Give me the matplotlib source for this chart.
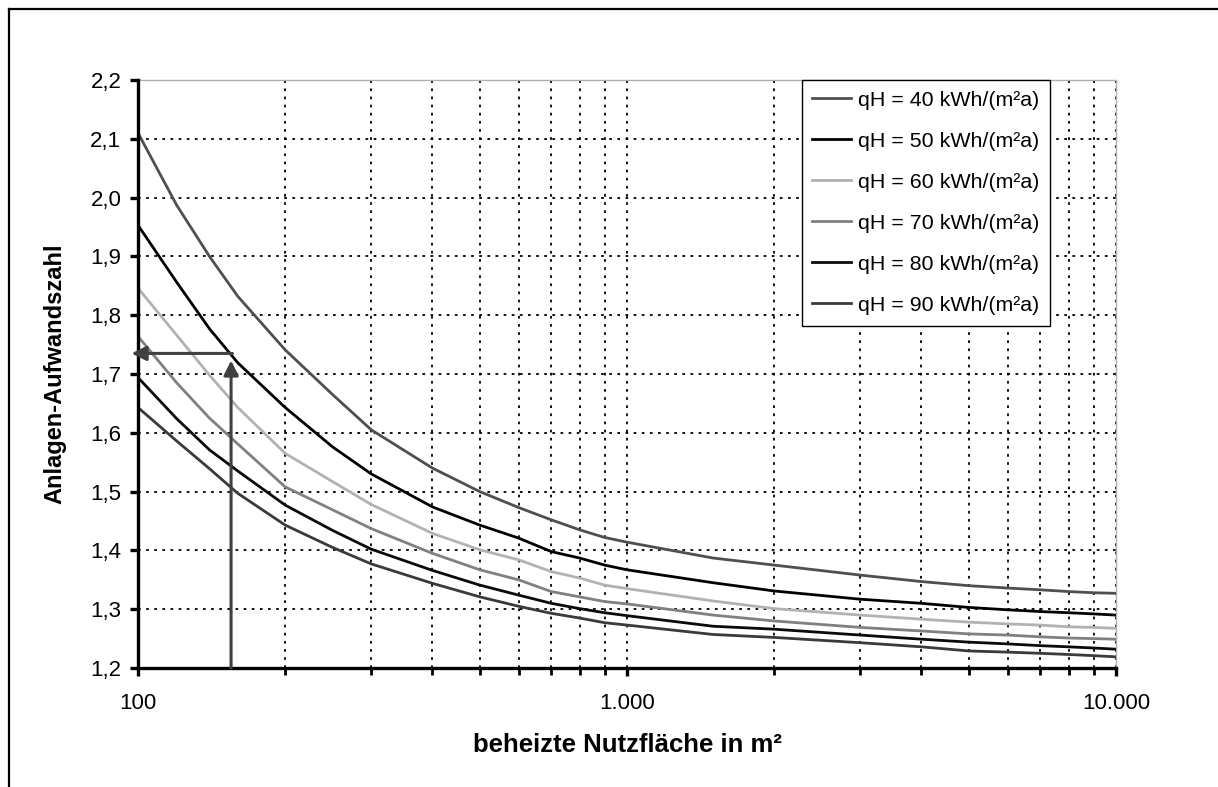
import matplotlib
matplotlib.use("Agg")
import matplotlib.pyplot as plt
from matplotlib.ticker import FixedLocator, FuncFormatter, NullFormatter
from matplotlib.lines import Line2D

plt.rcParams['font.family'] = ['Liberation Sans', 'DejaVu Sans']

# ---- data ----
area = [100, 120, 140, 160, 200, 250, 300, 400, 500, 600, 700, 800, 900,
        1000, 1500, 2000, 3000, 4000, 5000, 6000, 7000, 8000, 9000, 10000]

q40 = [2.110, 1.987, 1.900, 1.832, 1.741, 1.665, 1.605, 1.540, 1.500, 1.473, 1.452, 1.435, 1.422,
       1.414, 1.387, 1.375, 1.358, 1.347, 1.340, 1.336, 1.333, 1.330, 1.328, 1.327]
q50 = [1.953, 1.856, 1.777, 1.719, 1.643, 1.576, 1.530, 1.474, 1.443, 1.421, 1.398, 1.387, 1.375,
       1.367, 1.345, 1.331, 1.317, 1.310, 1.303, 1.299, 1.296, 1.294, 1.292, 1.290]
q60 = [1.846, 1.766, 1.698, 1.643, 1.565, 1.517, 1.478, 1.429, 1.401, 1.384, 1.364, 1.353, 1.341,
       1.335, 1.314, 1.301, 1.290, 1.283, 1.278, 1.275, 1.273, 1.270, 1.269, 1.2675]
q70 = [1.764, 1.685, 1.625, 1.581, 1.508, 1.469, 1.437, 1.395, 1.367, 1.350, 1.330, 1.321, 1.313,
       1.309, 1.290, 1.280, 1.269, 1.263, 1.258, 1.256, 1.253, 1.251, 1.250, 1.249]
q80 = [1.694, 1.624, 1.571, 1.535, 1.477, 1.434, 1.402, 1.366, 1.341, 1.324, 1.310, 1.301, 1.294,
       1.289, 1.271, 1.266, 1.256, 1.249, 1.244, 1.241, 1.238, 1.236, 1.234, 1.232]
q90 = [1.643, 1.586, 1.539, 1.497, 1.443, 1.405, 1.377, 1.344, 1.321, 1.305, 1.293, 1.285, 1.277,
       1.273, 1.257, 1.252, 1.243, 1.236, 1.229, 1.227, 1.225, 1.223, 1.221, 1.219]

series = [q40, q50, q60, q70, q80, q90]
labels = ["qH = 40 kWh/(m²a)", "qH = 50 kWh/(m²a)", "qH = 60 kWh/(m²a)",
          "qH = 70 kWh/(m²a)", "qH = 80 kWh/(m²a)", "qH = 90 kWh/(m²a)"]
colors = ["#4f4f4f", "#000000", "#b2b2b2", "#808080", "#0a0a0a", "#3a3a3a"]

# example reading (arrow)
ex_area = 155
ex_value = 1.735

y_ticks = [1.2, 1.3, 1.4, 1.5, 1.6, 1.7, 1.8, 1.9, 2.0, 2.1, 2.2]
x_major = [100, 1000, 10000]
x_major_labels = ["100", "1.000", "10.000"]
x_minor = [200, 300, 400, 500, 600, 700, 800, 900,
           2000, 3000, 4000, 5000, 6000, 7000, 8000, 9000]

# ---- figure ----
fig = plt.figure(figsize=(12.18, 7.87), dpi=100)
ax = fig.add_axes([138/1218, 1-668/787, (1116-138)/1218, (668-80)/787])

for ys, lab, c in zip(series, labels, colors):
    ax.plot(area, ys, color=c, lw=2.0, label=lab, zorder=3)

ax.set_xscale('log')
ax.set_xlim(100, 10000)
ax.set_ylim(1.2, 2.2)

ax.xaxis.set_major_locator(FixedLocator(x_major))
ax.xaxis.set_minor_locator(FixedLocator(x_minor))
ax.xaxis.set_major_formatter(FuncFormatter(
    lambda v, p: x_major_labels[x_major.index(int(round(v)))] if int(round(v)) in x_major else ""))
ax.xaxis.set_minor_formatter(NullFormatter())
ax.yaxis.set_major_locator(FixedLocator(y_ticks))
ax.yaxis.set_major_formatter(FuncFormatter(lambda v, p: f"{v:.1f}".replace('.', ',')))

grid_kw = dict(color='black', lw=1.3, linestyle=(0, (1.5, 3.0)))
ax.grid(True, which='major', axis='both', **grid_kw)
ax.grid(True, which='minor', axis='x', **grid_kw)
ax.set_axisbelow(True)

for s in ['left', 'bottom']:
    ax.spines[s].set_linewidth(2.4)
    ax.spines[s].set_color('black')
    ax.spines[s].set_zorder(5)
for s in ['top', 'right']:
    ax.spines[s].set_linewidth(1.0)
    ax.spines[s].set_color('#b0b0b0')

ax.tick_params(axis='y', which='major', direction='out', length=6, width=2.4,
               labelsize=16, pad=6, color='black')
ax.tick_params(axis='x', which='major', direction='out', length=6, width=2.4,
               labelsize=16, pad=12, color='black')
ax.tick_params(axis='x', which='minor', direction='out', length=5, width=2.0, color='black')

# arrows
arrow_color = '#404040'
ax.annotate('', xy=(ex_area, ex_value - 0.012), xytext=(ex_area, 1.2),
            arrowprops=dict(arrowstyle='-|>', color=arrow_color, lw=2.2,
                            mutation_scale=22, shrinkA=0, shrinkB=0), zorder=6)
ax.annotate('', xy=(100 * 0.97, ex_value), xytext=(ex_area + 1, ex_value),
            arrowprops=dict(arrowstyle='-|>', color=arrow_color, lw=2.2,
                            mutation_scale=22, shrinkA=0, shrinkB=0),
            annotation_clip=False, zorder=6)

leg = ax.legend(loc='upper right', bbox_to_anchor=((1050-138)/(1116-138), 1.0),
                borderaxespad=0, fontsize=15.4, frameon=True, fancybox=False,
                edgecolor='black', framealpha=1, handlelength=1.8,
                handletextpad=0.33, labelspacing=1.03, borderpad=0.5)
leg.get_frame().set_linewidth(1.0)
leg.set_zorder(10)

fig.text(55/1218, 1-374/787, "Anlagen-Aufwandszahl", rotation=90, ha='center',
         va='center', fontsize=17, fontweight='bold')
fig.text(627/1218, 1-745/787, "beheizte Nutzfläche in m²", ha='center',
         va='center', fontsize=18.5, fontweight='bold')

# outer frame (top and left edges visible)
fig.add_artist(Line2D([9/1218, 1.0], [1-9/787, 1-9/787], transform=fig.transFigure,
                      color='black', lw=1.6))
fig.add_artist(Line2D([9/1218, 9/1218], [1-9/787, 0.0], transform=fig.transFigure,
                      color='black', lw=1.6))

fig.savefig("out.png", dpi=100)
